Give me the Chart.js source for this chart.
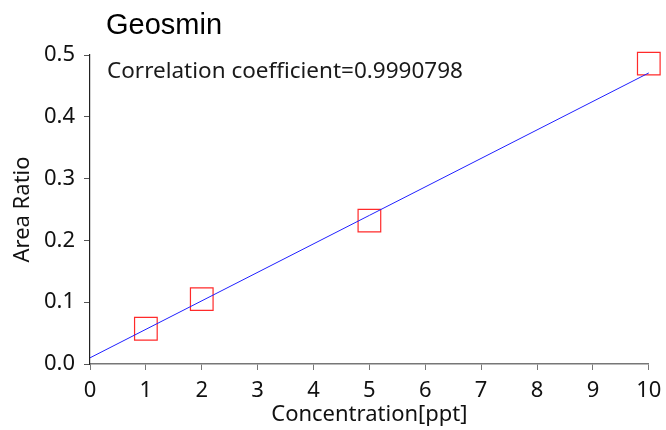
<!DOCTYPE html>
<html>
<head>
<meta charset="utf-8">
<script src="https://cdn.jsdelivr.net/npm/chart.js@4"></script>
<style>
    body { margin: 0; background: #fff; }
    #wrap { width: 666px; height: 430px; }
</style>
</head>
<body>
<div id="wrap"><canvas id="myChart"></canvas></div>
<script>
const concentrations = [1, 2, 5, 10];
const areaRatios = [0.057, 0.105, 0.232, 0.486];
const fitX = [0, 10];
const fitY = [0.010, 0.471];
const yTicks = [0.0, 0.1, 0.2, 0.3, 0.4, 0.5];
const xTicks = [0, 1, 2, 3, 4, 5, 6, 7, 8, 9, 10];
const chartTitle = 'Geosmin';
const correlationText = 'Correlation coefficient=0.9990798';

const font = '"Noto Sans", "Open Sans", sans-serif';

const labelsPlugin = {
    id: 'labels',
    afterDraw(chart) {
        const ctx = chart.ctx;
        const area = chart.chartArea;
        ctx.save();
        ctx.fillStyle = '#000';
        ctx.textBaseline = 'alphabetic';
        ctx.textAlign = 'left';
        ctx.font = '29px "Liberation Sans", Arial, sans-serif';
        ctx.fillText(chartTitle, area.left + 16, 34);
        ctx.fillStyle = '#1a1a1a';
        ctx.font = '22.5px ' + font;
        ctx.fillText(correlationText, area.left + 17, 78);
        ctx.restore();
    }
};

const chart = document.getElementById('myChart');
new Chart(chart, {
    type: 'scatter',
    data: {
        datasets: [{
            label: 'fit',
            type: 'line',
            data: fitX.map((x, i) => ({x: x, y: fitY[i]})),
            borderColor: '#2020ff',
            borderWidth: 1,
            pointRadius: 0,
            fill: false,
            clip: false
        }, {
            label: 'samples',
            data: concentrations.map((x, i) => ({x: x, y: areaRatios[i]})),
            pointStyle: 'rect',
            pointRadius: 16,
            pointHoverRadius: 16,
            borderColor: '#ff2a2a',
            borderWidth: 1.2,
            backgroundColor: 'rgba(0,0,0,0)',
            clip: false
        }]
    },
    options: {
        responsive: true,
        maintainAspectRatio: false,
        animation: false,
        layout: { padding: { top: 55, right: 14, left: 0, bottom: 0 } },
        plugins: {
            legend: false,
            tooltip: { enabled: false }
        },
        scales: {
            x: {
                type: 'linear',
                min: 0,
                max: 10,
                afterFit: (scale) => {
                    scale.height = 66;
                    scale.paddingLeft = 0;
                    scale.paddingRight = 0;
                },
                afterBuildTicks: (scale) => { scale.ticks = xTicks.map(v => ({value: v})); },
                grid: { drawOnChartArea: false, tickLength: 6, color: '#777', tickWidth: 1 },
                border: { color: '#777', width: 1.5 },
                ticks: { color: '#111', font: { family: font, size: 22 }, padding: 8, maxRotation: 0 },
                title: {
                    display: true,
                    text: 'Concentration[ppt]',
                    color: '#111',
                    font: { family: font, size: 22 },
                    padding: { top: 0, bottom: 2 }
                }
            },
            y: {
                min: 0,
                max: 0.5,
                afterFit: (scale) => {
                    scale.width = 90;
                    scale.paddingTop = 0;
                    scale.paddingBottom = 0;
                },
                afterBuildTicks: (scale) => { scale.ticks = yTicks.map(v => ({value: v})); },
                grid: { drawOnChartArea: false, tickLength: 6, color: '#555', tickWidth: 1 },
                border: { color: '#222', width: 1.2 },
                ticks: {
                    color: '#111',
                    font: { family: font, size: 22 },
                    padding: 9,
                    callback: (v) => v.toFixed(1)
                },
                title: {
                    display: true,
                    text: 'Area Ratio',
                    color: '#111',
                    font: { family: font, size: 22 },
                    padding: { top: 10, bottom: 0 }
                }
            }
        }
    },
    plugins: [labelsPlugin]
});
</script>
</body>
</html>
